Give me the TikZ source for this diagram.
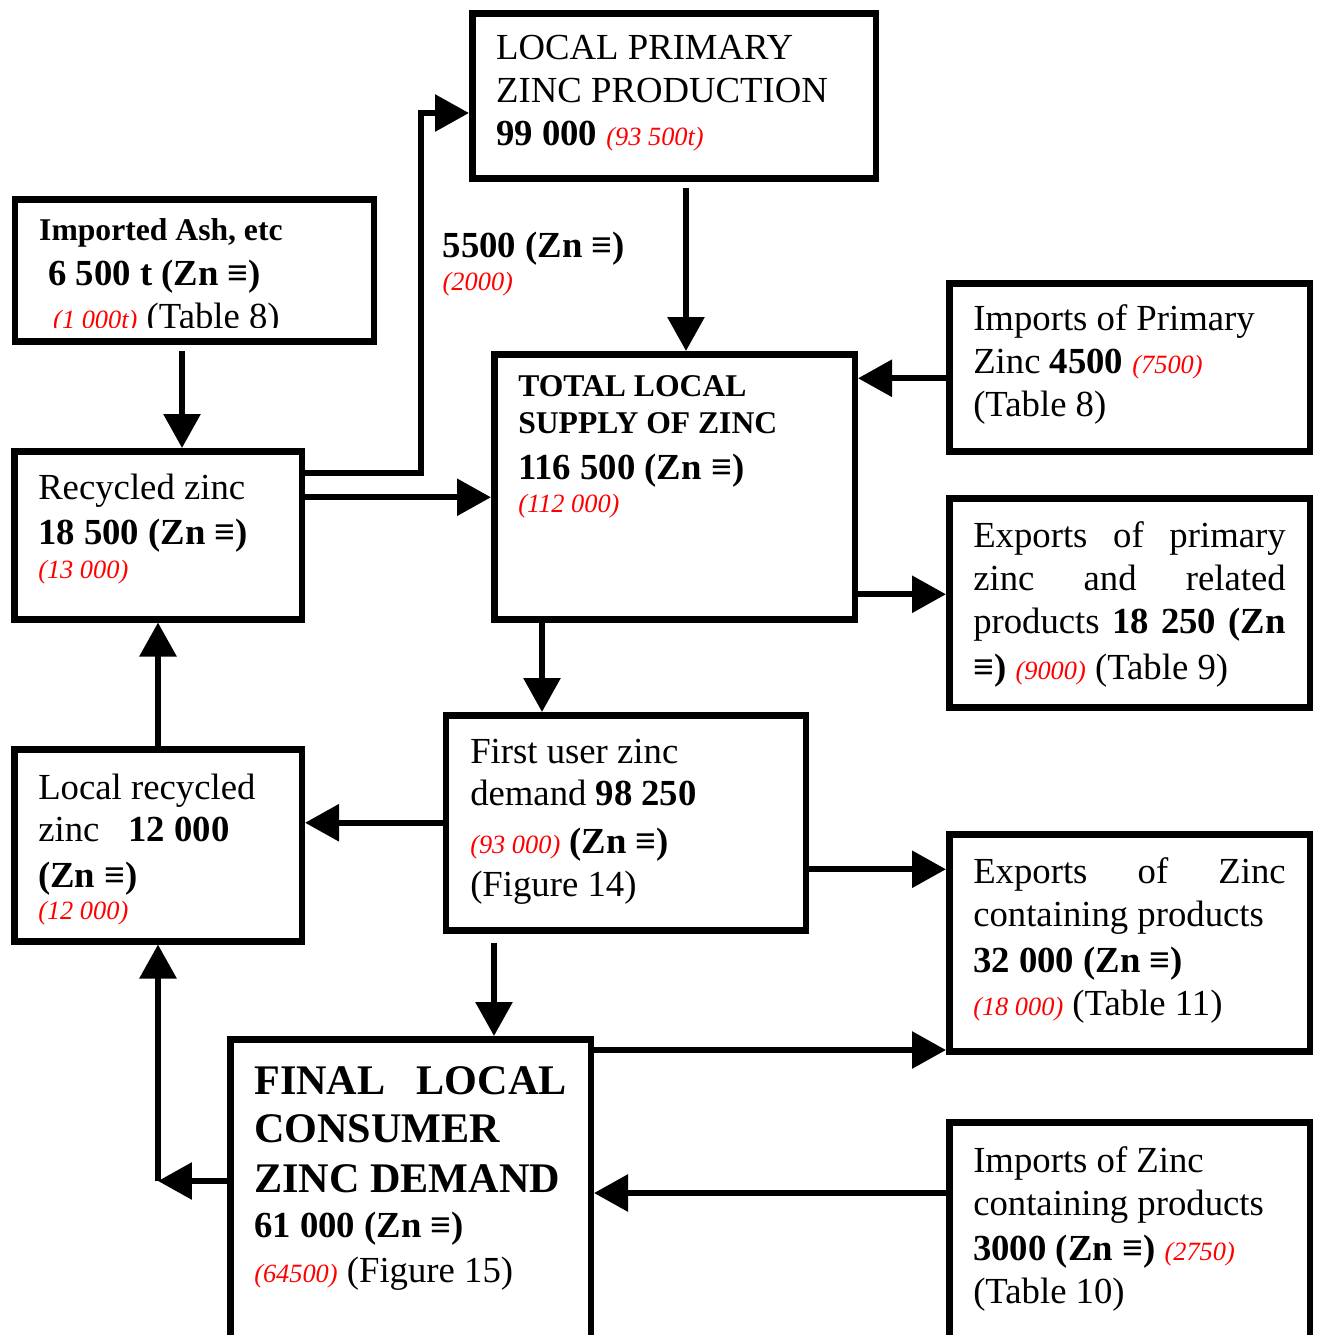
\documentclass[tikz,border=0pt]{standalone}
\usepackage{xcolor}
\usepackage{fontspec}
\setmainfont{Liberation Serif}
\usepackage{tikz}
\usetikzlibrary{arrows.meta, positioning}

\newcommand{\boxfont}{\fontsize{10.45pt}{12.25pt}\selectfont}
\newcommand{\smallbf}{\fontsize{9pt}{12.25pt}\selectfont\bfseries}
\newcommand{\bigbf}{\fontsize{12pt}{12.25pt}\selectfont\bfseries}
\newcommand{\prevyr}[1]{{\color{red}\fontsize{7.5pt}{9pt}\selectfont\mdseries\itshape #1}}

\begin{document}
\begin{tikzpicture}[
  box/.style={draw=black, line width=0.065cm, anchor=north west, inner xsep=0.24cm, inner ysep=0pt, align=flush left, font=\boxfont},
  lbl/.style={anchor=base west, inner sep=0pt, align=flush left, text width=2.2cm, font=\boxfont},
  arr/.style={line width=0.06cm, -{Triangle[width=0.36cm, length=0.34cm]}}
]
  \useasboundingbox (0,0) rectangle (13.17,-13.35);
  \clip (0,0) rectangle (13.17,-13.35);

  \node[box, text width=3.555cm, text height=0.46cm, text depth=1.19cm] (prod) at (4.69,-0.10)
    {LOCAL PRIMARY\\ZINC PRODUCTION\\\textbf{99 000} \prevyr{(93 500t)}};
  \begin{scope}
    \clip (0,0) rectangle (13.17,-3.27);
    \node[box, draw=none, outer sep=0pt, text width=3.105cm, text height=0.41cm, text depth=1.01cm] (ash) at (0.1525,-1.9925)
      {\smallbf Imported Ash, etc\\[0.02cm]\boxfont\hspace*{0.09cm}6 500 t (Zn ≡)\\\mdseries\hspace*{0.14cm}\prevyr{(1 000t)} (Table 8)};
  \end{scope}
  \draw[line width=0.065cm] (ash.south west) rectangle (ash.north east);
  \node[box, text width=3.125cm, text height=0.42cm, text depth=2.23cm] (tot) at (4.91,-3.51)
    {\smallbf TOTAL LOCAL\\[-0.06cm]SUPPLY OF ZINC\\[0.03cm]\boxfont 116 500 (Zn ≡)\\[-0.1cm]\prevyr{(112 000)}};
  \node[box, text width=3.125cm, text height=0.47cm, text depth=1.21cm] (impP) at (9.46,-2.80)
    {Imports of Primary\\Zinc \textbf{4500} \prevyr{(7500)}\\(Table 8)};
  \node[box, text width=2.395cm, text height=0.48cm, text depth=1.20cm] (rec) at (0.11,-4.48)
    {Recycled zinc\\[0.02cm]\textbf{18 500 (Zn ≡)}\\[-0.09cm]\prevyr{(13 000)}};
  \node[box, text width=3.125cm, text height=0.49cm, text depth=1.60cm] (expP) at (9.46,-4.95)
    {Exports\hfill of\hfill primary\\zinc\hfill and\hfill related\\products\hfill\textbf{18\hfill 250\hfill (Zn}\\[0.03cm]\textbf{≡)} \prevyr{(9000)} (Table 9)};
  \node[box, text width=3.115cm, text height=0.48cm, text depth=1.67cm] (first) at (4.43,-7.12)
    {First user zinc\\[-0.01cm]demand \textbf{98 250}\\[0.05cm]\prevyr{(93 000)} \textbf{(Zn ≡)}\\(Figure 14)};
  \node[box, text width=2.395cm, text height=0.50cm, text depth=1.42cm] (lrec) at (0.11,-7.46)
    {Local recycled\\[-0.01cm]zinc\hspace{0.29cm}\textbf{12 000}\\[0.03cm]\textbf{(Zn ≡)}\\[-0.11cm]\prevyr{(12 000)}};
  \node[box, text width=3.125cm, text height=0.49cm, text depth=1.68cm] (expZ) at (9.46,-8.31)
    {Exports\hfill of\hfill Zinc\\containing products\\[0.03cm]\textbf{32 000 (Zn ≡)}\\\prevyr{(18 000)} (Table 11)};
  \node[box, text width=3.125cm, text height=0.55cm, text depth=3.0cm] (fin) at (2.27,-10.36)
    {\bigbf FINAL\hfill LOCAL\\[0.05cm]CONSUMER\\[0.07cm]ZINC DEMAND\\[0.02cm]\boxfont 61 000 (Zn ≡)\\[0.02cm]\mdseries\prevyr{(64500)} (Figure 15)};
  \node[box, text width=3.125cm, text height=0.50cm, text depth=2.5cm] (impZ) at (9.46,-11.19)
    {Imports of Zinc\\containing products\\[0.02cm]\textbf{3000 (Zn ≡)} \prevyr{(2750)}\\(Table 10)};

  \node[lbl] (flow) at (4.42,-2.57) {\textbf{5500 (Zn ≡)}\\[-0.1cm]\prevyr{(2000)}};

  \coordinate (kink) at (4.21,-1.13);
  \coordinate (turn) at (1.58,-11.81);

  \draw[arr, shorten <=0.06cm] ([xshift=0.12cm]prod.south) -- ([xshift=0.12cm]prod.south |- tot.north);
  \draw[arr, shorten <=0.1cm] ([xshift=-0.125cm]ash.south) -- ([xshift=-0.125cm]ash.south |- rec.north);
  \draw[arr] ([yshift=0.62cm]rec.east) -| (kink) -- (kink -| prod.west);
  \draw[arr] ([yshift=0.38cm]rec.east) -- ([yshift=0.38cm]rec.east -| tot.west);
  \draw[arr] ([yshift=-0.11cm]impP.west) -- ([yshift=-0.11cm]impP.west -| tot.east);
  \draw[arr] ([yshift=-1.075cm]tot.east) -- ([yshift=-1.075cm]tot.east -| expP.west);
  \draw[arr] ([xshift=-1.325cm]tot.south) -- ([xshift=-1.325cm]tot.south |- first.north);
  \draw[arr] (first.west) -- (first.west -| lrec.east);
  \draw[arr] (lrec.north) -- (lrec.north |- rec.south);
  \draw[arr] ([yshift=-0.465cm]first.east) -- ([yshift=-0.465cm]first.east -| expZ.west);
  \draw[arr, shorten <=0.09cm] ([xshift=-1.32cm]first.south) -- ([xshift=-1.32cm]first.south |- fin.north);
  \draw[arr] ([yshift=-0.14cm]fin.north east) -- ([yshift=-0.14cm]fin.north east -| expZ.west);
  \draw[arr] ([yshift=-0.74cm]impZ.north west) -- ([yshift=-0.74cm]impZ.north west -| fin.east);
  \draw[arr] (turn -| fin.west) -- (turn);
  \draw[arr] (turn) -- (turn |- lrec.south);
\end{tikzpicture}
\end{document}
